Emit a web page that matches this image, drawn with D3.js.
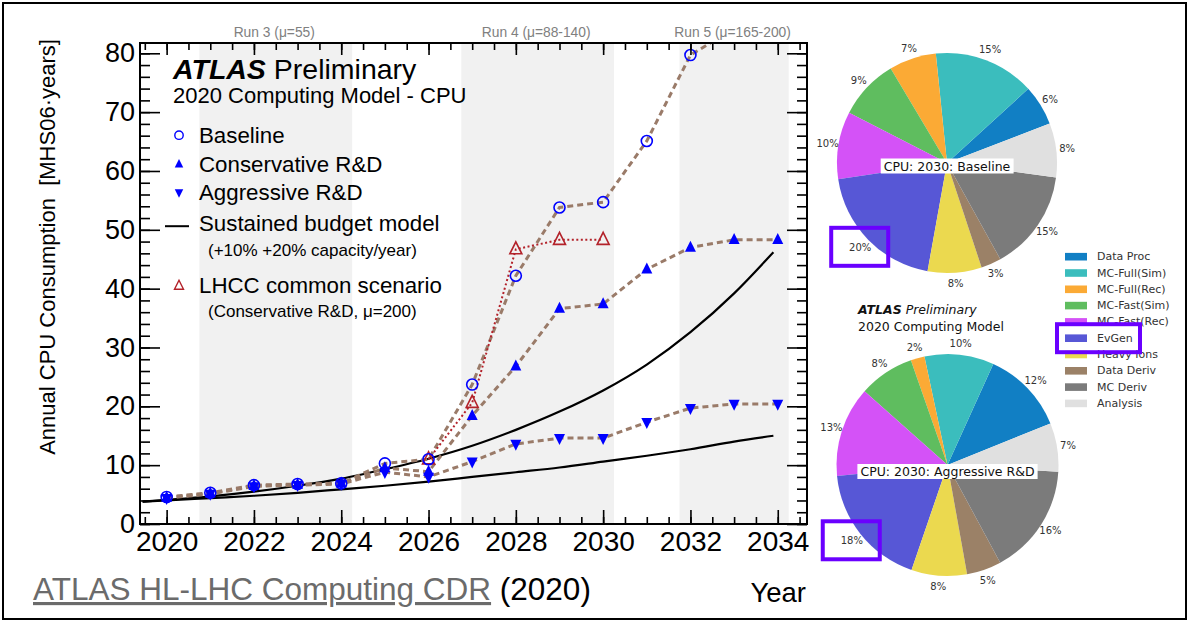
<!DOCTYPE html>
<html>
<head>
<meta charset="utf-8">
<script src="https://cdn.jsdelivr.net/npm/d3@7"></script>
<style>
  body { margin: 0; background: #fff; }
  svg { display: block; }
</style>
</head>
<body>
<svg id="fig" width="1189" height="623"></svg>
<script>
// ---- CPU projection data (MHS06·years) ----
const years = [2020, 2021, 2022, 2023, 2024, 2025, 2026, 2027, 2028, 2029, 2030, 2031, 2032, 2033, 2034];
const baseline     = [4.6, 5.3, 6.6, 6.8, 6.9, 10.3, 11.0, 23.7, 42.2, 53.8, 54.7, 65.1, 79.7, 84.2, 84.5];
const conservative = [4.5, 5.2, 6.5, 6.7, 6.9, 9.5, 8.9, 18.4, 26.8, 36.6, 37.4, 43.3, 47.0, 48.3, 48.3];
const aggressive   = [4.4, 5.1, 6.4, 6.6, 6.8, 8.8, 8.0, 10.6, 13.6, 14.6, 14.6, 17.3, 19.7, 20.4, 20.4];
const lhccYears = [2026, 2027, 2028, 2029, 2030];
const lhcc      = [11.0, 20.6, 46.7, 48.3, 48.3];

// Sustained budget model curves
const budgetYears  = [2019.45, 2020, 2021, 2022, 2023, 2024, 2025, 2026, 2027, 2028, 2029, 2030, 2031, 2032, 2033, 2033.9];
const budgetPlus20 = [3.8, 4.1, 4.7, 5.5, 6.5, 7.7, 9.3, 11.1, 13.3, 16.0, 19.1, 22.7, 27.1, 32.6, 39.2, 46.2];
const budgetPlus10 = [3.8, 4.0, 4.4, 4.8, 5.3, 5.9, 6.5, 7.2, 8.0, 8.8, 9.6, 10.6, 11.6, 12.7, 14.0, 15.0];

// LHC run periods
const runNames = ["Run 3 (\u03bc=55)", "Run 4 (\u03bc=88-140)", "Run 5 (\u03bc=165-200)"];
const runStart = [2020.75, 2026.75, 2031.75];
const runEnd   = [2024.25, 2030.25, 2034.25];

// Axis ticks
const xTickYears = [2020, 2022, 2024, 2026, 2028, 2030, 2032, 2034];
const yTickValues = [0, 10, 20, 30, 40, 50, 60, 70, 80];

// ---- 2030 CPU share pies (%) ----
const pieCategories = ["Data Proc", "MC-Full(Sim)", "MC-Full(Rec)", "MC-Fast(Sim)", "MC-Fast(Rec)",
                       "EvGen", "Heavy Ions", "Data Deriv", "MC Deriv", "Analysis"];
const pieColors = ["#117fc4", "#3bbdbd", "#fbaa35", "#5fbd5f", "#d452f7",
                   "#5757d6", "#ebd94f", "#9b8167", "#7b7b7b", "#e0e0e0"];
const baselineShares2030   = [6, 15, 7, 9, 10, 20, 8, 3, 15, 8];
const aggressiveShares2030 = [12, 10, 2, 8, 13, 18, 8, 5, 16, 7];

const svg = d3.select("#fig");
const ROOTFONT = "'Liberation Sans', Arial, Helvetica, sans-serif";
const MPLFONT = "'DejaVu Sans', sans-serif";

// outer border
svg.append("rect").attr("x", 3).attr("y", 3).attr("width", 1183).attr("height", 616)
  .attr("fill", "none").attr("stroke", "#000").attr("stroke-width", 2);

// ---- main projection plot ----
const x = d3.scaleLinear().domain([2019.39, 2034.67]).range([140, 807]);
const y = d3.scaleLinear().domain([0, 81.75]).range([524, 43]);
const [x0, x1] = x.range();
const [yb, yt] = y.range();

svg.append("clipPath").attr("id", "plotclip")
  .append("rect").attr("x", x0).attr("y", yt).attr("width", x1 - x0).attr("height", yb - yt);

// run shading
svg.append("g").selectAll("rect").data(runStart).join("rect")
  .attr("x", (d) => x(d)).attr("y", yt)
  .attr("width", (d, i) => x(runEnd[i]) - x(d)).attr("height", yb - yt)
  .attr("fill", "#f1f1f1");

svg.append("g").selectAll("text").data(runNames).join("text")
  .attr("x", (d, i) => x((runStart[i] + runEnd[i]) / 2) - 1.5).attr("y", 36.5)
  .attr("text-anchor", "middle").attr("font-family", ROOTFONT).attr("font-size", 13.8)
  .attr("fill", "#808080").text((d) => d);

const plot = svg.append("g").attr("clip-path", "url(#plotclip)");

// budget model curves
const budgetLine = d3.line().x((d, i) => x(budgetYears[i])).y((d) => y(d)).curve(d3.curveMonotoneX);
[budgetPlus20, budgetPlus10].forEach((arr) => {
  plot.append("path").attr("d", budgetLine(arr)).attr("fill", "none")
    .attr("stroke", "#000").attr("stroke-width", 2.2);
});

// dashed scenario lines
const yearLine = d3.line().x((d, i) => x(years[i])).y((d) => y(d));
[baseline, conservative, aggressive].forEach((arr) => {
  plot.append("path").attr("d", yearLine(arr)).attr("fill", "none")
    .attr("stroke", "#9a7b69").attr("stroke-width", 3).attr("stroke-dasharray", "6,4");
});

// LHCC dotted line
const lhccLine = d3.line().x((d, i) => x(lhccYears[i])).y((d) => y(d));
plot.append("path").attr("d", lhccLine(lhcc)).attr("fill", "none")
  .attr("stroke", "#b3222a").attr("stroke-width", 2).attr("stroke-dasharray", "2,2.5");

// marker shapes
const triUp = (cx, cy, s) => `M${cx},${cy - s * 0.62}L${cx + s / 2},${cy + s * 0.38}L${cx - s / 2},${cy + s * 0.38}Z`;
const triDown = (cx, cy, s) => `M${cx},${cy + s * 0.62}L${cx + s / 2},${cy - s * 0.38}L${cx - s / 2},${cy - s * 0.38}Z`;

plot.append("g").selectAll("path").data(lhcc).join("path")
  .attr("d", (d, i) => triUp(x(lhccYears[i]), y(d), 12))
  .attr("fill", "none").attr("stroke", "#b3222a").attr("stroke-width", 1.6);

plot.append("g").selectAll("circle").data(baseline).join("circle")
  .attr("cx", (d, i) => x(years[i])).attr("cy", (d) => y(d)).attr("r", 5.5)
  .attr("fill", "none").attr("stroke", "#0000ff").attr("stroke-width", 1.6);

plot.append("g").selectAll("path").data(conservative).join("path")
  .attr("d", (d, i) => triUp(x(years[i]), y(d), 11)).attr("fill", "#0000ff");

plot.append("g").selectAll("path").data(aggressive).join("path")
  .attr("d", (d, i) => triDown(x(years[i]), y(d), 11)).attr("fill", "#0000ff");

// frame
svg.append("rect").attr("x", x0).attr("y", yt).attr("width", x1 - x0).attr("height", yb - yt)
  .attr("fill", "none").attr("stroke", "#000").attr("stroke-width", 2);

// axes (ticks on all four sides, pointing inwards)
const halfYears = d3.range(2019.5, 2034.6, 0.5);
const yMinor = d3.range(0, 81, 2);
function styleAxis(g) {
  g.select(".domain").remove();
  g.selectAll("line").attr("stroke", "#000").attr("stroke-width", 1.6);
  g.selectAll("text").attr("font-family", ROOTFONT).attr("fill", "#000");
}
svg.append("g").attr("transform", `translate(0,${yb})`)
  .call(d3.axisBottom(x).tickValues(halfYears).tickSize(-7).tickFormat("")).call(styleAxis);
svg.append("g").attr("transform", `translate(0,${yb})`)
  .call(d3.axisBottom(x).tickValues(xTickYears).tickSize(-14).tickPadding(7).tickFormat(d3.format("d")))
  .call(styleAxis)
  .call((g) => g.selectAll("text").attr("font-size", 28));
svg.append("g").attr("transform", `translate(0,${yt})`)
  .call(d3.axisTop(x).tickValues(halfYears).tickSize(-7).tickFormat("")).call(styleAxis);
svg.append("g").attr("transform", `translate(0,${yt})`)
  .call(d3.axisTop(x).tickValues(xTickYears).tickSize(-12).tickFormat("")).call(styleAxis);
svg.append("g").attr("transform", `translate(${x0},0)`)
  .call(d3.axisLeft(y).tickValues(yMinor).tickSize(-10).tickFormat("")).call(styleAxis);
svg.append("g").attr("transform", `translate(${x0},0)`)
  .call(d3.axisLeft(y).tickValues(yTickValues).tickSize(-20).tickPadding(5).tickFormat(d3.format("d")))
  .call(styleAxis)
  .call((g) => g.selectAll("text").attr("font-size", 27));
svg.append("g").attr("transform", `translate(${x1},0)`)
  .call(d3.axisRight(y).tickValues(yMinor).tickSize(-10).tickFormat("")).call(styleAxis);
svg.append("g").attr("transform", `translate(${x1},0)`)
  .call(d3.axisRight(y).tickValues(yTickValues).tickSize(-20).tickFormat("")).call(styleAxis);

// axis titles
svg.append("text").attr("transform", "translate(55,247) rotate(-90)")
  .attr("text-anchor", "middle").attr("font-family", ROOTFONT).attr("font-size", 22)
  .attr("xml:space", "preserve")
  .text("Annual CPU Consumption  [MHS06\u00b7years]");
svg.append("text").attr("x", 806).attr("y", 602).attr("text-anchor", "end")
  .attr("font-family", ROOTFONT).attr("font-size", 27.5).text("Year");

// reference line
const ref = svg.append("text").attr("x", 33).attr("y", 600).attr("font-family", ROOTFONT).attr("font-size", 31.5);
ref.append("tspan").attr("fill", "#6b6b6b").attr("text-decoration", "underline").text("ATLAS HL-LHC Computing CDR");
ref.append("tspan").attr("fill", "#000").text(" (2020)");

// plot header and legend
const hdr = svg.append("text").attr("x", 173).attr("y", 79).attr("font-family", ROOTFONT).attr("font-size", 28.5);
hdr.append("tspan").attr("font-weight", "bold").attr("font-style", "italic").text("ATLAS");
hdr.append("tspan").text(" Preliminary");
svg.append("text").attr("x", 173).attr("y", 103).attr("font-family", ROOTFONT).attr("font-size", 22)
  .text("2020 Computing Model - CPU");

const lg = svg.append("g").attr("font-family", ROOTFONT);
const legendRows = [
  { label: "Baseline", y: 142.7, kind: "circle" },
  { label: "Conservative R&D", y: 171.7, kind: "up" },
  { label: "Aggressive R&D", y: 200, kind: "down" },
  { label: "Sustained budget model", y: 230.7, kind: "line" },
  { label: "LHCC common scenario", y: 293.3, kind: "open" },
];
legendRows.forEach((r) => {
  lg.append("text").attr("x", 199).attr("y", r.y).attr("font-size", 22.3).text(r.label);
  const my = r.y - 7.5;
  if (r.kind === "circle") {
    lg.append("circle").attr("cx", 179).attr("cy", my).attr("r", 4.2)
      .attr("fill", "none").attr("stroke", "#0000ff").attr("stroke-width", 1.4);
  } else if (r.kind === "up") {
    lg.append("path").attr("d", triUp(179, my, 8.5)).attr("fill", "#0000ff");
  } else if (r.kind === "down") {
    lg.append("path").attr("d", triDown(179, my, 8.5)).attr("fill", "#0000ff");
  } else if (r.kind === "line") {
    lg.append("line").attr("x1", 165).attr("x2", 189).attr("y1", my + 3).attr("y2", my + 3)
      .attr("stroke", "#000").attr("stroke-width", 2);
  } else {
    lg.append("path").attr("d", triUp(179, my, 9)).attr("fill", "none")
      .attr("stroke", "#b3222a").attr("stroke-width", 1.4);
  }
});
lg.append("text").attr("x", 208).attr("y", 256).attr("font-size", 17).text("(+10% +20% capacity/year)");
lg.append("text").attr("x", 208).attr("y", 316.7).attr("font-size", 17).text("(Conservative R&D, \u03bc=200)");

// ---- pies ----
const highlight = "#6a00ff";
function drawPie(values, cx, cy, r, startDeg, title, titleY) {
  const g = svg.append("g").attr("transform", `translate(${cx},${cy})`);
  // first wedge starts startDeg above the horizontal and wedges run counter-clockwise
  const a0 = (90 - startDeg) * Math.PI / 180;
  const pie = d3.pie().sort(null).value((d) => d).startAngle(a0).endAngle(a0 - 2 * Math.PI);
  const arcs = pie(values);
  const arc = d3.arc().innerRadius(0).outerRadius(r);
  const labelArc = d3.arc().innerRadius(r * 1.1).outerRadius(r * 1.1);
  g.selectAll("path").data(arcs).join("path")
    .attr("d", arc).attr("fill", (d, i) => pieColors[i]);
  g.selectAll("text.pct").data(arcs).join("text").attr("class", "pct")
    .attr("x", (d) => labelArc.centroid(d)[0]).attr("y", (d) => labelArc.centroid(d)[1])
    .attr("text-anchor", "middle").attr("dominant-baseline", "central")
    .attr("font-family", MPLFONT).attr("font-size", 10).attr("fill", "#333")
    .text((d) => d.data + "%");
  // highlight the EvGen share
  const ev = labelArc.centroid(arcs[5]);
  g.append("rect").attr("x", ev[0] - 29).attr("y", ev[1] - 19.5).attr("width", 57).attr("height", 38)
    .attr("fill", "none").attr("stroke", highlight).attr("stroke-width", 4);
  // title with white box
  const t = g.append("text").attr("x", 0).attr("y", titleY)
    .attr("text-anchor", "middle").attr("dominant-baseline", "central")
    .attr("font-family", MPLFONT).attr("font-size", 12.5).attr("fill", "#111").text(title);
  const bb = t.node().getBBox();
  g.insert("rect", "text:last-of-type").attr("x", bb.x - 3).attr("y", bb.y).attr("width", bb.width + 6)
    .attr("height", bb.height).attr("fill", "#fff");
  t.raise();
}
drawPie(baselineShares2030, 947, 163, 110, 21, "CPU: 2030: Baseline", 3);
drawPie(aggressiveShares2030, 947.5, 465, 111, 22, "CPU: 2030: Aggressive R&D", 6.5);

// pie header
const ph = svg.append("text").attr("x", 858).attr("y", 314).attr("font-family", MPLFONT)
  .attr("font-size", 12.5).attr("font-style", "italic").attr("fill", "#111");
ph.append("tspan").attr("font-weight", "bold").text("ATLAS");
ph.append("tspan").text(" Preliminary");
svg.append("text").attr("x", 858).attr("y", 330.7).attr("font-family", MPLFONT)
  .attr("font-size", 12.5).attr("fill", "#111").text("2020 Computing Model");

// pie legend
const pl = svg.append("g");
pieCategories.forEach((c, i) => {
  const cyL = 256.7 + i * 16.3;
  pl.append("rect").attr("x", 1065).attr("y", cyL - 3.8).attr("width", 22).attr("height", 7.6)
    .attr("fill", pieColors[i]);
  pl.append("text").attr("x", 1097).attr("y", cyL).attr("dominant-baseline", "central")
    .attr("font-family", MPLFONT).attr("font-size", 11).attr("fill", "#333").text(c);
});
const evY = 256.7 + 5 * 16.3;
pl.append("rect").attr("x", 1057).attr("y", evY - 14).attr("width", 83).attr("height", 28)
  .attr("fill", "none").attr("stroke", highlight).attr("stroke-width", 4);
</script>
</body>
</html>
